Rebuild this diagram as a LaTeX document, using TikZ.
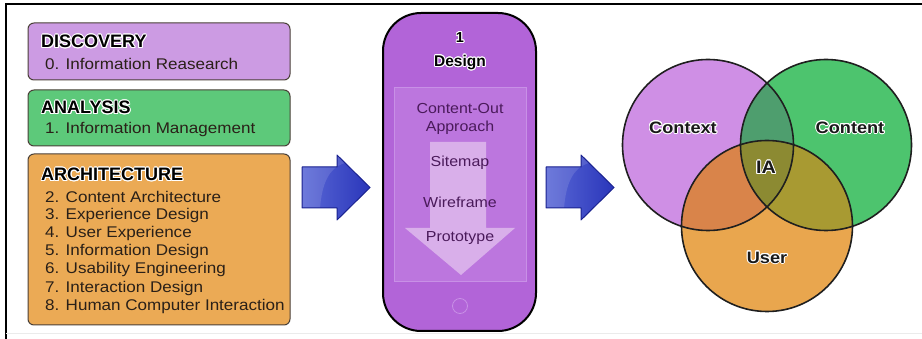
\documentclass[tikz,border=0pt]{standalone}
\usepackage{fontspec}
\setmainfont{Liberation Sans}
\newfontfamily\widefont{Liberation Sans}[FakeStretch=1.1]
\usepackage[copies]{contour}
\contourlength{0.9pt}
\definecolor{discfill}{HTML}{CC9BE3}
\definecolor{anafill}{HTML}{5DC97A}
\definecolor{archfill}{HTML}{EBAA55}
\definecolor{boxline}{HTML}{4A4038}
\definecolor{itemtext}{HTML}{2A2018}
\definecolor{phonefill}{HTML}{B264D8}
\definecolor{screenfill}{HTML}{BC76DE}
\definecolor{screenline}{HTML}{C890E6}
\definecolor{downfill}{HTML}{DDB6EC}
\definecolor{purpletext}{HTML}{4A1A5A}
\definecolor{blueL}{HTML}{5A68D6}
\definecolor{blueR}{HTML}{2A36BA}
\definecolor{blueline}{HTML}{1A2290}
\definecolor{ctxc}{HTML}{CF8FE5}
\definecolor{cntc}{HTML}{4DC46E}
\definecolor{usrc}{HTML}{E9A64E}
\definecolor{ccc}{HTML}{4E9E6E}
\definecolor{cuc}{HTML}{D9844A}
\definecolor{nuc}{HTML}{A89A32}
\definecolor{allc}{HTML}{8C8A32}
\begin{document}
\begin{tikzpicture}[x=1pt,y=-1pt,
  phasebox/.style={draw=boxline, line width=1pt, rounded corners=6pt, minimum width=262pt},
  headtext/.style={anchor=west, inner sep=0pt, font=\fontsize{18}{20}\selectfont\bfseries, text=black},
  itemtext/.style={anchor=west, inner sep=0pt, font=\widefont\fontsize{15.5}{18}\selectfont, text=itemtext},
  phonetext/.style={inner sep=0pt, font=\widefont\fontsize{14.5}{17}\selectfont, text=purpletext},
  venn/.style={circle, minimum size=171pt, inner sep=0pt},
  vennlabel/.style={inner sep=0pt, font=\widefont\fontsize{16.5}{19}\selectfont\bfseries, text=black!90},
  blueblock/.style={left color=blueL, right color=blueR},
  blueedge/.style={draw=blueline, line width=1pt, line join=round}
]
\useasboundingbox (0,0) rectangle (922,339);
\fill[white] (0,0) rectangle (922,339);
% frame
\draw[line width=1.5pt] (6,339) -- (6,4) -- (922,4);
\draw[line width=0.8pt, black!8] (6,333) -- (922,333);

% left boxes
\node[phasebox, fill=discfill, minimum height=57pt] (disc) at (159,51.5) {};
\node[phasebox, fill=anafill, minimum height=56pt] (ana) at (159,118) {};
\node[phasebox, fill=archfill, minimum height=171pt] (arch) at (159,239.5) {};

\node[headtext] (discH) at (41,42) {\contour{white}{DISCOVERY}};
\node[itemtext] (disc0) at (45,64) {0. Information Reasearch};
\node[headtext] (anaH) at (41,108) {\contour{white}{ANALYSIS}};
\node[itemtext] (ana1) at (45,129) {1. Information Management};
\node[headtext] (archH) at (41,175) {\contour{white}{ARCHITECTURE}};
\node[itemtext] (a2) at (45,197) {2. Content Architecture};
\node[itemtext] (a3) at (45,215.2) {3. Experience Design};
\node[itemtext] (a4) at (45,233.4) {4. User Experience};
\node[itemtext] (a5) at (45,251.6) {5. Information Design};
\node[itemtext] (a6) at (45,269.8) {6. Usability Engineering};
\node[itemtext] (a7) at (45,288) {7. Interaction Design};
\node[itemtext] (a8) at (45,306.2) {8. Human Computer Interaction};

% blue arrows
\shade[blueblock]
  (302,167) -- (337,167) -- (337,155) -- (370,187.5) -- (337,220) -- (337,208) -- (302,208) -- cycle;
\fill[white, opacity=0.12] (302,167) -- (337,167) -- (337,155) -- (345,163) .. controls (328,168) and (322,185) .. (320,208) -- (302,208) -- cycle;
\draw[blueedge]
  (302,167) -- (337,167) -- (337,155) -- (370,187.5) -- (337,220) -- (337,208) -- (302,208) -- cycle;

\shade[blueblock]
  (546,167) -- (581,167) -- (581,155) -- (614,187.5) -- (581,220) -- (581,208) -- (546,208) -- cycle;
\fill[white, opacity=0.12] (546,167) -- (581,167) -- (581,155) -- (589,163) .. controls (572,168) and (566,185) .. (564,208) -- (546,208) -- cycle;
\draw[blueedge]
  (546,167) -- (581,167) -- (581,155) -- (614,187.5) -- (581,220) -- (581,208) -- (546,208) -- cycle;

% phone
\node[draw=black, line width=2pt, fill=phonefill, rounded corners=38pt, minimum width=153pt, minimum height=318pt] (phone) at (459.5,172) {};
\node[draw=screenline, line width=0.8pt, fill=screenfill, minimum width=132pt, minimum height=194pt, inner sep=0pt] (screen) at (460,184) {};
\node[circle, draw=screenline, line width=0.8pt, minimum size=15pt, inner sep=0pt] (home) at (460,306) {};
\fill[downfill, opacity=0.9] (430,142) -- (486,142) -- (486,228) -- (515,228) -- (461,275) -- (405,228) -- (430,228) -- cycle;

\node[inner sep=0pt, font=\fontsize{14.5}{17}\selectfont\bfseries] (one) at (460,38) {\contour{white}{1}};
\node[inner sep=0pt, font=\fontsize{15.5}{17}\selectfont\bfseries] (design) at (460,63) {\contour{white}{Design}};
\node[phonetext] (cout) at (460,109) {Content-Out};
\node[phonetext] (appr) at (460,128) {Approach};
\node[phonetext] (site) at (460,163) {Sitemap};
\node[phonetext] (wire) at (460,202) {Wireframe};
\node[phonetext] (proto) at (460,238) {Prototype};

% venn
\node[venn, fill=ctxc] (ctx) at (708,145) {};
\node[venn, fill=cntc] (cnt) at (826,145) {};
\node[venn, fill=usrc] (usr) at (767,226) {};
\begin{scope}
  \clip (708,145) circle[radius=85.5];
  \fill[ccc] (826,145) circle[radius=85.5];
  \fill[cuc] (767,226) circle[radius=85.5];
\end{scope}
\begin{scope}
  \clip (826,145) circle[radius=85.5];
  \fill[nuc] (767,226) circle[radius=85.5];
\end{scope}
\begin{scope}
  \clip (708,145) circle[radius=85.5];
  \clip (826,145) circle[radius=85.5];
  \fill[allc] (767,226) circle[radius=85.5];
\end{scope}
\draw[line width=1.6pt, black!88] (708,145) circle[radius=85.5];
\draw[line width=1.6pt, black!88] (826,145) circle[radius=85.5];
\draw[line width=1.6pt, black!88] (767,226) circle[radius=85.5];

\node[vennlabel] (lctx) at (683,128) {\contour{white}{Context}};
\node[vennlabel] (lcnt) at (850,128) {\contour{white}{Content}};
\node[vennlabel, font=\widefont\fontsize{18}{20}\selectfont\bfseries] (lia) at (766,168) {\contour{white}{IA}};
\node[vennlabel] (lusr) at (767,258) {\contour{white}{User}};
\end{tikzpicture}
\end{document}
